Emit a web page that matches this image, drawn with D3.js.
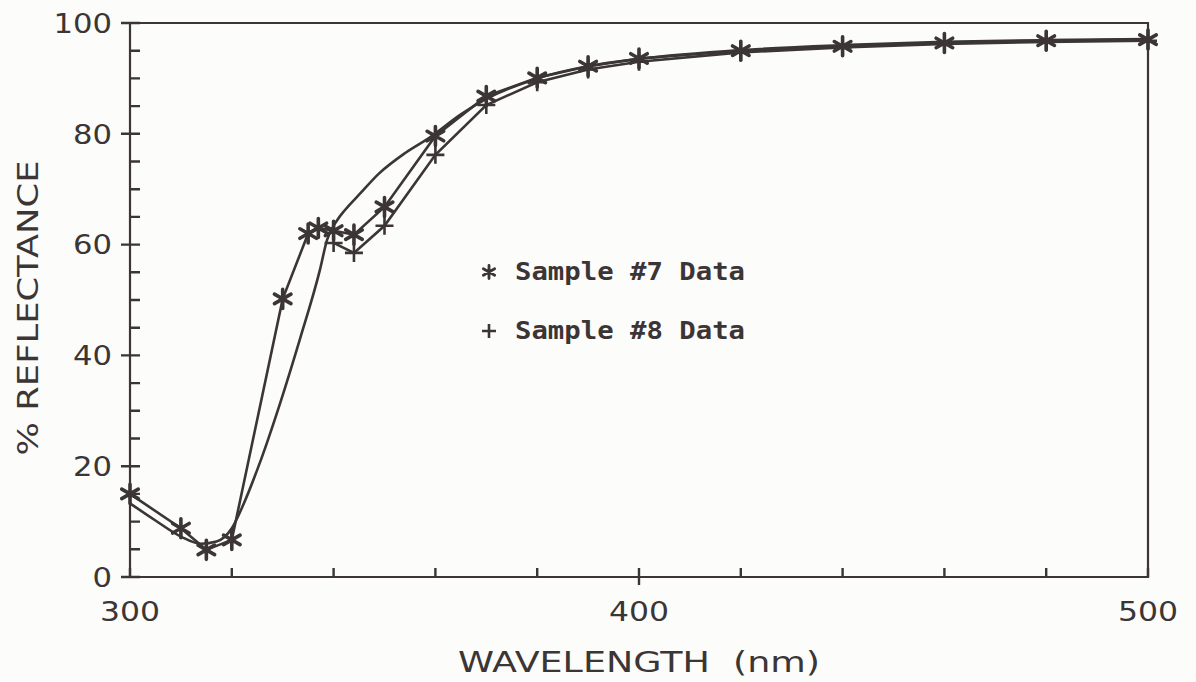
<!DOCTYPE html>
<html><head><meta charset="utf-8">
<script src="https://cdn.jsdelivr.net/npm/d3@7"></script>
<style>
html,body{margin:0;padding:0;background:#fcfcfa;}
svg{display:block;}
text{fill:#3b3535;}
</style></head>
<body>
<svg id="chart" width="1196" height="682"></svg>
<script>
// ---- data ----
const sample7Wavelength = [300,310,315,320,330,335,337,340,344,350,360,370,380,390,400,420,440,460,480,500];
const sample7Reflectance = [15.0,8.8,4.9,6.7,50.2,62.0,63.0,62.5,61.8,66.8,79.6,86.8,90.1,92.2,93.6,95.0,95.8,96.4,96.8,97.0];

const sample8Wavelength = [340,344,350,360,370,380,390,400,420,440,460,480,500];
const sample8Reflectance = [60.3,58.5,63.4,76.2,85.2,89.3,91.6,93.0,94.7,95.6,96.2,96.6,96.8];

const curveWavelength = [300,305,310,314,317,320,322,325.5,329.5,333.4,337.3,338.7,340.7,342.2,345,349,354,359,365,370,380,390,400,420,440,460,480,500];
const curveReflectance = [13.3,10.2,7.3,6.0,6.4,8.8,12.5,20.6,31.4,43,55.4,60.8,64.4,66.2,69,72.9,76.5,79.4,83.5,86.3,90,92.2,93.5,95.1,96,96.6,96.9,97.1];

const xMajorTicks = [300,400,500];
const xMinorTicks = [320,340,360,380,420,440,460,480];
const yMajorTicks = [0,20,40,60,80,100];
const yMinorTicks = [5,10,15,25,30,35,45,50,55,65,70,75,85,90,95];

const legendLabels = ["Sample #7 Data","Sample #8 Data"];
const xTitle = "WAVELENGTH  (nm)";
const yTitle = "% REFLECTANCE";

// ---- drawing ----
const ink = "#3b3535";
const svg = d3.select("#chart");
const pL = 130, pR = 1148, pT = 23, pB = 577;
const x = d3.scaleLinear().domain([300,500]).range([pL,pR]);
const y = d3.scaleLinear().domain([0,100]).range([pB,pT]);

// frame
svg.append("path").attr("d",`M${pL},${pT}H${pR}V${pB}H${pL}Z`)
  .attr("fill","none").attr("stroke",ink).attr("stroke-width",2.2);

// ticks as one path built from the scales
let tp = "";
yMajorTicks.forEach(v=>{ tp += `M${pL-9},${y(v)}H${pL+10}`; });
yMinorTicks.forEach(v=>{ tp += `M${pL},${y(v)}H${pL+10}`; });
xMinorTicks.concat(xMajorTicks).forEach(v=>{ tp += `M${x(v)},${pB}V${pB-9}`; });
[400].forEach(v=>{ tp += `M${x(v)},${pB}V${pB+8}`; });
svg.append("path").attr("d",tp).attr("fill","none").attr("stroke",ink).attr("stroke-width",2.4);

svg.append("g").selectAll("text").data(yMajorTicks).join("text")
  .attr("x",112).attr("y",d=>y(d)).attr("dy","0.36em").attr("text-anchor","end")
  .attr("font-family","DejaVu Sans").attr("font-size",27)
  .attr("textLength",d=>String(d).length*19.5).attr("lengthAdjust","spacingAndGlyphs")
  .text(d=>d);
svg.append("g").selectAll("text").data(xMajorTicks).join("text")
  .attr("x",d=>x(d)).attr("y",621).attr("text-anchor","middle")
  .attr("font-family","DejaVu Sans").attr("font-size",27)
  .attr("textLength",60).attr("lengthAdjust","spacingAndGlyphs")
  .text(d=>d);

// titles
svg.append("text").attr("x",639).attr("y",672).attr("text-anchor","middle")
  .attr("font-family","DejaVu Sans").attr("font-size",29)
  .attr("textLength",362).attr("lengthAdjust","spacingAndGlyphs")
  .style("white-space","pre").text(xTitle);
svg.append("text").attr("transform","translate(38,308) rotate(-90)").attr("text-anchor","middle")
  .attr("font-family","DejaVu Sans").attr("font-size",29)
  .attr("textLength",295).attr("lengthAdjust","spacingAndGlyphs")
  .text(yTitle);

// lines
const lineGen = (xs,ys,curve)=>d3.line().x(i=>x(xs[i])).y(i=>y(ys[i])).curve(curve)(d3.range(xs.length));
svg.append("path").attr("d",lineGen(curveWavelength,curveReflectance,d3.curveMonotoneX))
  .attr("fill","none").attr("stroke",ink).attr("stroke-width",2.6);
svg.append("path").attr("d",lineGen(sample7Wavelength,sample7Reflectance,d3.curveLinear))
  .attr("fill","none").attr("stroke",ink).attr("stroke-width",2.6);
svg.append("path").attr("d",lineGen(sample8Wavelength,sample8Reflectance,d3.curveLinear))
  .attr("fill","none").attr("stroke",ink).attr("stroke-width",2.6);

// markers
function asterisk(g,cx,cy,r,w){
  const p = `M${cx},${cy-r}L${cx},${cy+r}`+
    `M${cx-r*0.87},${cy-r*0.5}L${cx+r*0.87},${cy+r*0.5}`+
    `M${cx-r*0.87},${cy+r*0.5}L${cx+r*0.87},${cy-r*0.5}`;
  g.append("path").attr("d",p).attr("stroke",ink).attr("stroke-width",w).attr("stroke-linecap","round").attr("fill","none");
}
function plus(g,cx,cy,r,w){
  g.append("path").attr("d",`M${cx-r},${cy}L${cx+r},${cy}M${cx},${cy-r}L${cx},${cy+r}`)
   .attr("stroke",ink).attr("stroke-width",w).attr("fill","none");
}
const gm = svg.append("g");
sample8Wavelength.forEach((w,i)=>plus(gm,x(w),y(sample8Reflectance[i]),9,2.6));
sample7Wavelength.forEach((w,i)=>asterisk(gm,x(w),y(sample7Reflectance[i]),9.5,3.6));

// legend
const lg = svg.append("g");
asterisk(lg,489,272,6.5,2.8);
plus(lg,489,331,7,2.6);
lg.selectAll("text").data(legendLabels).join("text")
  .attr("x",515).attr("y",(d,i)=>272+i*59).attr("dy","0.35em")
  .attr("font-family","DejaVu Sans Mono").attr("font-weight","bold").attr("font-size",24)
  .attr("textLength",230).attr("lengthAdjust","spacingAndGlyphs")
  .text(d=>d);
</script>
</body></html>
